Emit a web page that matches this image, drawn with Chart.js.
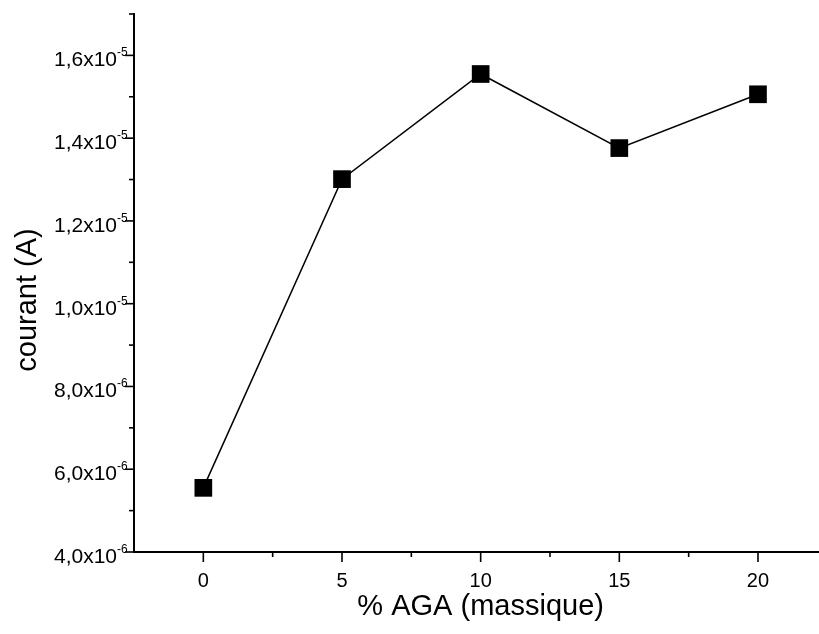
<!DOCTYPE html>
<html>
<head>
<meta charset="utf-8">
<script src="https://cdn.jsdelivr.net/npm/chart.js@4"></script>
<style>
  html, body { margin: 0; padding: 0; background: #fff; }
  #wrap { width: 819px; height: 634px; }
</style>
</head>
<body>
<div id="wrap"><canvas id="chart" width="819" height="634"></canvas></div>
<script>
// data
const pctAGA = [0, 5, 10, 15, 20];
const courant = [5.55e-6, 1.301e-5, 1.555e-5, 1.376e-5, 1.506e-5];

// axis ticks
const xMajorTicks = [0, 5, 10, 15, 20];
const xMinorTicks = [2.5, 7.5, 12.5, 17.5];
const yMajorTicks = [4e-6, 6e-6, 8e-6, 1e-5, 1.2e-5, 1.4e-5, 1.6e-5];
const yMinorTicks = [5e-6, 7e-6, 9e-6, 1.1e-5, 1.3e-5, 1.5e-5, 1.7e-5];
const yTickMantissa = ['4,0', '6,0', '8,0', '1,0', '1,2', '1,4', '1,6'];
const yTickExponent = ['-6', '-6', '-6', '-5', '-5', '-5', '-5'];
const yTitle = 'courant (A)';
const xTitle = '% AGA (massique)';

const FONT = '"Liberation Sans", Arial, Helvetica, sans-serif';

// tick marks (major / minor), tick labels with raised exponent, axis titles
const axisDecor = {
    id: 'axisDecor',
    afterDraw(chart) {
        const { ctx, scales: { x, y } } = chart;
        const x0 = x.left;
        const y0 = y.bottom;
        ctx.save();
        ctx.strokeStyle = '#000';
        ctx.lineWidth = 1.6;
        const tick = (x1, y1, x2, y2) => {
            ctx.beginPath();
            ctx.moveTo(x1, y1);
            ctx.lineTo(x2, y2);
            ctx.stroke();
        };
        yMajorTicks.forEach(v => { const py = y.getPixelForValue(v); tick(x0 - 9, py, x0, py); });
        yMinorTicks.forEach(v => { const py = y.getPixelForValue(v); tick(x0 - 5, py, x0, py); });
        xMajorTicks.forEach(v => { const px = x.getPixelForValue(v); tick(px, y0, px, y0 + 10); });
        xMinorTicks.forEach(v => { const px = x.getPixelForValue(v); tick(px, y0, px, y0 + 5); });

        ctx.fillStyle = '#000';
        ctx.textBaseline = 'middle';
        ctx.textAlign = 'center';
        ctx.font = '20px ' + FONT;
        xMajorTicks.forEach(v => {
            ctx.fillText(String(v), x.getPixelForValue(v), y0 + 29);
        });

        yMajorTicks.forEach((v, i) => {
            const py = y.getPixelForValue(v);
            ctx.font = '21px ' + FONT;
            ctx.textAlign = 'right';
            ctx.textBaseline = 'alphabetic';
            ctx.fillText(yTickMantissa[i] + 'x10', 117, py + 11);
            ctx.font = '12px ' + FONT;
            ctx.textAlign = 'left';
            ctx.fillText(yTickExponent[i], 117, py + 1);
        });

        // x title
        ctx.font = '29px ' + FONT;
        ctx.textAlign = 'center';
        ctx.textBaseline = 'middle';
        ctx.fillText(xTitle, x.getPixelForValue(10), 607);

        // y title, rotated
        ctx.translate(36, 300);
        ctx.rotate(-Math.PI / 2);
        ctx.textBaseline = 'alphabetic';
        ctx.fillText(yTitle, 0, 0);
        ctx.restore();
    }
};

new Chart(document.getElementById('chart'), {
    type: 'line',
    data: {
        datasets: [{
            data: pctAGA.map((v, i) => ({ x: v, y: courant[i] })),
            borderColor: '#000',
            borderWidth: 1.5,
            backgroundColor: '#000',
            pointStyle: 'rect',
            pointRadius: 12.5,
            pointHoverRadius: 12.5,
            pointBorderWidth: 0,
            tension: 0,
            clip: false
        }]
    },
    options: {
        responsive: false,
        animation: false,
        events: [],
        layout: { autoPadding: false, padding: { top: 14, right: 0, bottom: 0, left: 0 } },
        plugins: {
            legend: { display: false },
            tooltip: { enabled: false }
        },
        scales: {
            x: {
                type: 'linear',
                min: -2.5,
                max: 22.2,
                grid: { display: false },
                border: { display: true, color: '#000', width: 2 },
                ticks: { display: false },
                afterBuildTicks: s => { s.ticks = xMajorTicks.map(v => ({ value: v })); },
                afterFit: s => { s.height = 82; },
                title: { display: false }
            },
            y: {
                type: 'linear',
                min: 4e-6,
                max: 1.7e-5,
                grid: { display: false },
                border: { display: true, color: '#000', width: 2 },
                ticks: { display: false },
                afterBuildTicks: s => { s.ticks = yMajorTicks.map(v => ({ value: v })); },
                afterFit: s => { s.width = 134; },
                title: { display: false }
            }
        }
    },
    plugins: [axisDecor]
});
</script>
</body>
</html>
